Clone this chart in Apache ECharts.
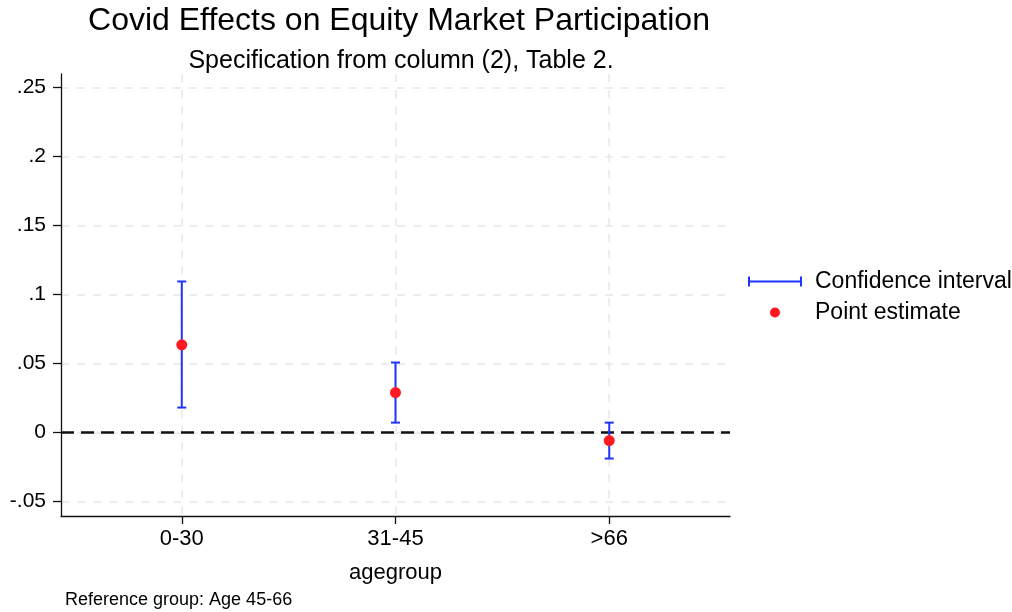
<!DOCTYPE html>
<html>
<head>
<meta charset="utf-8">
<script src="https://cdn.jsdelivr.net/npm/echarts@6/dist/echarts.min.js"></script>
<style>
  html, body { margin: 0; padding: 0; background: #fff; }
  #chart { width: 1012px; height: 612px; }
</style>
</head>
<body>
<div id="chart"></div>
<script>
// Age groups, with their point estimates and 95% confidence bounds
const categories = ['0-30', '31-45', '>66'];
const pointEstimates = [0.0635, 0.029, -0.0058];
const ciLower = [0.0181, 0.0072, -0.0188];
const ciUpper = [0.1094, 0.0507, 0.0072];
const yTicks = [-0.05, 0, 0.05, 0.1, 0.15, 0.2, 0.25];
const yTickLabels = ['-.05', '0', '.05', '.1', '.15', '.2', '.25'];

const FONT = "'Liberation Sans', Arial, Helvetica, sans-serif";
const BLUE = '#1f35ff';
const RED = '#ff1a22';

// categories sit at x = 1, 2, 3 on a numeric axis
const catPos = categories.map((_, i) => i + 1);
const ciData = catPos.map((x, i) => [x, ciLower[i], ciUpper[i]]);
const pointData = catPos.map((x, i) => [x, pointEstimates[i]]);

const chart = echarts.init(document.getElementById('chart'), null, { renderer: 'canvas' });

chart.setOption({
  backgroundColor: '#ffffff',
  animation: false,
  title: [
    {
      text: 'Covid Effects on Equity Market Participation',
      left: 394, top: 0, textAlign: 'center',
      textStyle: { fontFamily: FONT, fontSize: 32, fontWeight: 'normal', color: '#000' }
    },
    {
      text: 'Specification from column (2), Table 2.',
      left: 396, top: 44, textAlign: 'center',
      textStyle: { fontFamily: FONT, fontSize: 25, fontWeight: 'normal', color: '#000' }
    },
    {
      text: 'Reference group: Age 45-66',
      left: 60, top: 586,
      textStyle: { fontFamily: FONT, fontSize: 18, fontWeight: 'normal', color: '#000' }
    }
  ],
  legend: [
    {
      data: [{
        name: 'Confidence interval',
        icon: 'path://M0,0h2v10h-2z M2,4h50v2h-50z M52,0h2v10h-2z'
      }],
      left: 748, top: 270, padding: 0,
      itemWidth: 54, itemHeight: 10,
      textStyle: { fontFamily: FONT, fontSize: 23, color: '#000', padding: [0, 0, 0, 8] }
    },
    {
      data: [{ name: 'Point estimate', icon: 'circle' }],
      left: 770, top: 301, padding: 0,
      itemWidth: 10, itemHeight: 10,
      textStyle: { fontFamily: FONT, fontSize: 23, color: '#000', padding: [0, 0, 0, 30] }
    }
  ],
  grid: { left: 61, right: 282, top: 74, bottom: 96, containLabel: false },
  xAxis: {
    type: 'value',
    min: 0.435, max: 3.565,
    name: 'agegroup',
    nameLocation: 'middle',
    nameGap: 46,
    nameTextStyle: { fontFamily: FONT, fontSize: 22, color: '#000' },
    axisLine: { show: true, onZero: false, lineStyle: { color: '#111', width: 1.3 } },
    axisTick: { show: true, length: 8, customValues: catPos, lineStyle: { color: '#111', width: 1.3 } },
    axisLabel: {
      customValues: catPos,
      margin: 12,
      fontFamily: FONT, fontSize: 22, color: '#000',
      formatter: v => categories[Math.round(v) - 1] || ''
    },
    splitLine: { show: true, lineStyle: { color: '#e8e8e8', width: 1.5, type: [8, 8] } }
  },
  yAxis: {
    type: 'value',
    min: -0.0604, max: 0.2596,
    axisLine: { show: true, onZero: false, lineStyle: { color: '#111', width: 1.3 } },
    axisTick: { show: true, length: 8, customValues: yTicks, lineStyle: { color: '#111', width: 1.3 } },
    axisLabel: {
      customValues: yTicks,
      margin: 15,
      fontFamily: FONT, fontSize: 21, color: '#000',
      formatter: v => {
        const i = yTicks.findIndex(t => Math.abs(t - v) < 1e-9);
        return i >= 0 ? yTickLabels[i] : '';
      }
    },
    splitLine: { show: true, lineStyle: { color: '#e8e8e8', width: 1.5, type: [8, 8] } }
  },
  series: [
    {
      name: 'Confidence interval',
      type: 'custom',
      itemStyle: { color: BLUE },
      data: ciData,
      renderItem: function (params, api) {
        const x = api.value(0);
        const lo = api.coord([x, api.value(1)]);
        const hi = api.coord([x, api.value(2)]);
        const half = 4.5;
        const style = { stroke: BLUE, lineWidth: 2, fill: null };
        return {
          type: 'group',
          children: [
            { type: 'line', shape: { x1: lo[0], y1: lo[1], x2: hi[0], y2: hi[1] }, style },
            { type: 'line', shape: { x1: lo[0] - half, y1: lo[1], x2: lo[0] + half, y2: lo[1] }, style },
            { type: 'line', shape: { x1: hi[0] - half, y1: hi[1], x2: hi[0] + half, y2: hi[1] }, style }
          ]
        };
      },
      z: 3
    },
    {
      name: 'Point estimate',
      type: 'scatter',
      symbol: 'circle',
      symbolSize: 11,
      itemStyle: { color: RED, opacity: 1 },
      data: pointData,
      z: 4,
      markLine: {
        silent: true,
        symbol: ['none', 'none'],
        label: { show: false },
        lineStyle: { color: '#111', width: 2.5, type: [13, 7] },
        data: [{ yAxis: 0 }],
        z: 2
      }
    }
  ]
});
</script>
</body>
</html>
